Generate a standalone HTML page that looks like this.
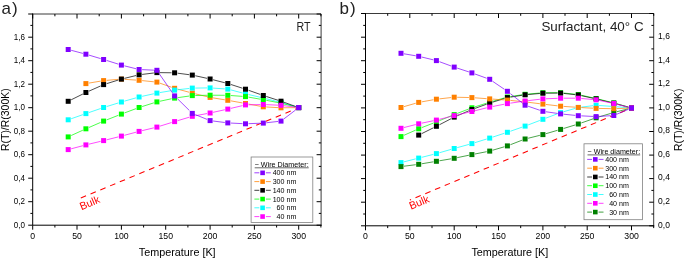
<!DOCTYPE html>
<html><head><meta charset="utf-8"><title>chart</title><style>html,body{margin:0;padding:0;background:#fff}svg{display:block;will-change:transform;transform:translateZ(0)}</style></head><body>
<svg width="685" height="259" viewBox="0 0 685 259">
<rect width="100%" height="100%" fill="#fff"/>
<line x1="80.8" y1="198.0" x2="298.7" y2="107.7" stroke="#ff0000" stroke-width="1.05" stroke-dasharray="5.7 4.85"/>
<text x="0" y="0" font-size="10.7" fill="#ff0000" transform="translate(81.4,210.2) rotate(-22.5)" font-family="Liberation Sans, sans-serif">Bulk</text>
<path fill="none" stroke="#ff8000" stroke-width="0.70" d="M88.91 83.09L100.64 81.11M106.64 80.35L118.38 79.35M124.38 79.30L136.12 80.10M142.12 80.60L153.85 81.80M159.85 83.15L171.59 87.25M177.59 89.11L189.32 92.29M195.32 93.83L207.06 96.67M213.06 97.89L224.80 99.81M230.80 100.84L242.53 102.96M248.53 104.06L260.27 106.24M266.27 106.97L278.00 107.63M284.00 107.77L295.74 107.63"/>
<rect x="83.4" y="81.1" width="5.0" height="5.0" fill="#ff8000"/>
<rect x="101.1" y="78.1" width="5.0" height="5.0" fill="#ff8000"/>
<rect x="118.9" y="76.6" width="5.0" height="5.0" fill="#ff8000"/>
<rect x="136.6" y="77.8" width="5.0" height="5.0" fill="#ff8000"/>
<rect x="154.4" y="79.6" width="5.0" height="5.0" fill="#ff8000"/>
<rect x="172.1" y="85.8" width="5.0" height="5.0" fill="#ff8000"/>
<rect x="189.8" y="90.6" width="5.0" height="5.0" fill="#ff8000"/>
<rect x="207.6" y="94.9" width="5.0" height="5.0" fill="#ff8000"/>
<rect x="225.3" y="97.8" width="5.0" height="5.0" fill="#ff8000"/>
<rect x="243.0" y="101.0" width="5.0" height="5.0" fill="#ff8000"/>
<rect x="260.8" y="104.3" width="5.0" height="5.0" fill="#ff8000"/>
<rect x="278.5" y="105.3" width="5.0" height="5.0" fill="#ff8000"/>
<rect x="296.2" y="105.1" width="5.0" height="5.0" fill="#ff8000"/>
<path fill="none" stroke="#00ffff" stroke-width="0.70" d="M71.17 118.75L82.91 114.65M88.91 112.57L100.64 108.53M106.64 106.57L118.38 102.93M124.38 101.15L136.12 97.85M142.12 96.34L153.85 93.76M159.85 92.59L171.59 90.61M177.59 89.76L189.32 88.44M195.32 88.07L207.06 87.93M213.06 88.10L224.80 88.90M230.80 89.89L242.53 93.01M248.53 94.51L260.27 97.29M266.27 98.76L278.00 101.74M284.00 103.36L295.74 106.74"/>
<rect x="65.7" y="117.3" width="5.0" height="5.0" fill="#00ffff"/>
<rect x="83.4" y="111.1" width="5.0" height="5.0" fill="#00ffff"/>
<rect x="101.1" y="105.0" width="5.0" height="5.0" fill="#00ffff"/>
<rect x="118.9" y="99.5" width="5.0" height="5.0" fill="#00ffff"/>
<rect x="136.6" y="94.5" width="5.0" height="5.0" fill="#00ffff"/>
<rect x="154.4" y="90.6" width="5.0" height="5.0" fill="#00ffff"/>
<rect x="172.1" y="87.6" width="5.0" height="5.0" fill="#00ffff"/>
<rect x="189.8" y="85.6" width="5.0" height="5.0" fill="#00ffff"/>
<rect x="207.6" y="85.4" width="5.0" height="5.0" fill="#00ffff"/>
<rect x="225.3" y="86.6" width="5.0" height="5.0" fill="#00ffff"/>
<rect x="243.0" y="91.3" width="5.0" height="5.0" fill="#00ffff"/>
<rect x="260.8" y="95.5" width="5.0" height="5.0" fill="#00ffff"/>
<rect x="278.5" y="100.0" width="5.0" height="5.0" fill="#00ffff"/>
<rect x="296.2" y="105.1" width="5.0" height="5.0" fill="#00ffff"/>
<path fill="none" stroke="#00ff00" stroke-width="0.70" d="M71.17 135.53L82.91 130.17M88.91 127.50L100.64 122.40M106.64 119.92L118.38 115.28M124.38 112.98L136.12 108.62M142.12 106.55L153.85 102.85M159.85 101.26L171.59 98.74M177.59 97.68L189.32 96.02M195.32 95.53L207.06 95.27M213.06 95.22L224.80 95.28M230.80 95.52L242.53 96.38M248.53 97.12L260.27 99.18M266.27 100.29L278.00 102.61M284.00 103.94L295.74 106.86"/>
<rect x="65.7" y="134.4" width="5.0" height="5.0" fill="#00ff00"/>
<rect x="83.4" y="126.3" width="5.0" height="5.0" fill="#00ff00"/>
<rect x="101.1" y="118.6" width="5.0" height="5.0" fill="#00ff00"/>
<rect x="118.9" y="111.6" width="5.0" height="5.0" fill="#00ff00"/>
<rect x="136.6" y="105.0" width="5.0" height="5.0" fill="#00ff00"/>
<rect x="154.4" y="99.4" width="5.0" height="5.0" fill="#00ff00"/>
<rect x="172.1" y="95.6" width="5.0" height="5.0" fill="#00ff00"/>
<rect x="189.8" y="93.1" width="5.0" height="5.0" fill="#00ff00"/>
<rect x="207.6" y="92.7" width="5.0" height="5.0" fill="#00ff00"/>
<rect x="225.3" y="92.8" width="5.0" height="5.0" fill="#00ff00"/>
<rect x="243.0" y="94.1" width="5.0" height="5.0" fill="#00ff00"/>
<rect x="260.8" y="97.2" width="5.0" height="5.0" fill="#00ff00"/>
<rect x="278.5" y="100.7" width="5.0" height="5.0" fill="#00ff00"/>
<rect x="296.2" y="105.1" width="5.0" height="5.0" fill="#00ff00"/>
<path fill="none" stroke="#000000" stroke-width="0.70" d="M71.17 99.81L82.91 93.99M88.91 91.16L100.64 85.94M106.64 83.67L118.38 80.03M124.38 78.37L136.12 75.53M142.12 74.43L153.85 72.97M159.85 72.63L171.59 72.77M177.59 73.19L189.32 74.71M195.32 75.76L207.06 78.34M213.06 79.76L224.80 82.74M230.80 84.46L242.53 88.24M248.53 90.27L260.27 94.43M266.27 96.46L278.00 100.24M284.00 102.28L295.74 106.52"/>
<rect x="65.7" y="98.8" width="5.0" height="5.0" fill="#000000"/>
<rect x="83.4" y="90.0" width="5.0" height="5.0" fill="#000000"/>
<rect x="101.1" y="82.1" width="5.0" height="5.0" fill="#000000"/>
<rect x="118.9" y="76.6" width="5.0" height="5.0" fill="#000000"/>
<rect x="136.6" y="72.3" width="5.0" height="5.0" fill="#000000"/>
<rect x="154.4" y="70.1" width="5.0" height="5.0" fill="#000000"/>
<rect x="172.1" y="70.3" width="5.0" height="5.0" fill="#000000"/>
<rect x="189.8" y="72.6" width="5.0" height="5.0" fill="#000000"/>
<rect x="207.6" y="76.5" width="5.0" height="5.0" fill="#000000"/>
<rect x="225.3" y="81.0" width="5.0" height="5.0" fill="#000000"/>
<rect x="243.0" y="86.7" width="5.0" height="5.0" fill="#000000"/>
<rect x="260.8" y="93.0" width="5.0" height="5.0" fill="#000000"/>
<rect x="278.5" y="98.7" width="5.0" height="5.0" fill="#000000"/>
<rect x="296.2" y="105.1" width="5.0" height="5.0" fill="#000000"/>
<path fill="none" stroke="#ff00ff" stroke-width="0.70" d="M71.17 148.81L82.91 145.69M88.91 144.17L100.64 141.33M106.64 139.84L118.38 136.86M124.38 135.31L136.12 132.19M142.12 130.67L153.85 127.83M159.85 126.17L171.59 122.53M177.59 120.70L189.32 117.20M195.32 115.74L207.06 113.56M213.06 112.34L224.80 109.76M230.80 108.39L242.53 105.61M248.53 104.83L260.27 104.57M266.27 104.64L278.00 105.16M284.00 105.69L295.74 107.21"/>
<rect x="65.7" y="147.1" width="5.0" height="5.0" fill="#ff00ff"/>
<rect x="83.4" y="142.4" width="5.0" height="5.0" fill="#ff00ff"/>
<rect x="101.1" y="138.1" width="5.0" height="5.0" fill="#ff00ff"/>
<rect x="118.9" y="133.6" width="5.0" height="5.0" fill="#ff00ff"/>
<rect x="136.6" y="128.9" width="5.0" height="5.0" fill="#ff00ff"/>
<rect x="154.4" y="124.6" width="5.0" height="5.0" fill="#ff00ff"/>
<rect x="172.1" y="119.1" width="5.0" height="5.0" fill="#ff00ff"/>
<rect x="189.8" y="113.8" width="5.0" height="5.0" fill="#ff00ff"/>
<rect x="207.6" y="110.5" width="5.0" height="5.0" fill="#ff00ff"/>
<rect x="225.3" y="106.6" width="5.0" height="5.0" fill="#ff00ff"/>
<rect x="243.0" y="102.4" width="5.0" height="5.0" fill="#ff00ff"/>
<rect x="260.8" y="102.0" width="5.0" height="5.0" fill="#ff00ff"/>
<rect x="278.5" y="102.8" width="5.0" height="5.0" fill="#ff00ff"/>
<rect x="296.2" y="105.1" width="5.0" height="5.0" fill="#ff00ff"/>
<path fill="none" stroke="#8000ff" stroke-width="0.70" d="M71.17 50.29L82.91 53.41M88.91 55.10L100.64 58.60M106.64 60.45L118.38 64.15M124.38 65.84L136.12 68.76M142.12 69.64L153.85 70.16M158.93 73.30L172.51 92.90M177.59 98.86L189.32 110.44M195.32 114.62L207.06 119.38M213.06 120.99L224.80 122.51M230.80 123.05L242.53 123.65M248.53 123.68L260.27 123.22M266.27 122.76L278.00 121.44M284.00 118.82L295.74 109.88"/>
<rect x="65.7" y="47.0" width="5.0" height="5.0" fill="#8000ff"/>
<rect x="83.4" y="51.7" width="5.0" height="5.0" fill="#8000ff"/>
<rect x="101.1" y="57.0" width="5.0" height="5.0" fill="#8000ff"/>
<rect x="118.9" y="62.6" width="5.0" height="5.0" fill="#8000ff"/>
<rect x="136.6" y="67.0" width="5.0" height="5.0" fill="#8000ff"/>
<rect x="154.4" y="67.8" width="5.0" height="5.0" fill="#8000ff"/>
<rect x="172.1" y="93.4" width="5.0" height="5.0" fill="#8000ff"/>
<rect x="189.8" y="110.9" width="5.0" height="5.0" fill="#8000ff"/>
<rect x="207.6" y="118.1" width="5.0" height="5.0" fill="#8000ff"/>
<rect x="225.3" y="120.4" width="5.0" height="5.0" fill="#8000ff"/>
<rect x="243.0" y="121.3" width="5.0" height="5.0" fill="#8000ff"/>
<rect x="260.8" y="120.6" width="5.0" height="5.0" fill="#8000ff"/>
<rect x="278.5" y="118.6" width="5.0" height="5.0" fill="#8000ff"/>
<rect x="296.2" y="105.1" width="5.0" height="5.0" fill="#8000ff"/>
<path d="M32.20 14.00 H321.10 V225.70" fill="none" stroke="#3a3a3a" stroke-width="1"/>
<path d="M32.70 13.50 V225.20 H321.60" fill="none" stroke="#000" stroke-width="1"/>
<line x1="32.7" y1="225.2" x2="32.7" y2="229.7" stroke="#000" stroke-width="1"/>
<line x1="32.7" y1="14.0" x2="32.7" y2="18.5" stroke="#000" stroke-width="1"/>
<text transform="translate(32.70,239.30) scale(0.945,1)" font-size="9.2" text-anchor="middle" font-family="Liberation Sans, sans-serif">0</text>
<line x1="54.9" y1="225.2" x2="54.9" y2="227.5" stroke="#000" stroke-width="1"/>
<line x1="54.9" y1="14.0" x2="54.9" y2="16.3" stroke="#000" stroke-width="1"/>
<line x1="77.0" y1="225.2" x2="77.0" y2="229.7" stroke="#000" stroke-width="1"/>
<line x1="77.0" y1="14.0" x2="77.0" y2="18.5" stroke="#000" stroke-width="1"/>
<text transform="translate(77.04,239.30) scale(0.945,1)" font-size="9.2" text-anchor="middle" font-family="Liberation Sans, sans-serif">50</text>
<line x1="99.2" y1="225.2" x2="99.2" y2="227.5" stroke="#000" stroke-width="1"/>
<line x1="99.2" y1="14.0" x2="99.2" y2="16.3" stroke="#000" stroke-width="1"/>
<line x1="121.4" y1="225.2" x2="121.4" y2="229.7" stroke="#000" stroke-width="1"/>
<line x1="121.4" y1="14.0" x2="121.4" y2="18.5" stroke="#000" stroke-width="1"/>
<text transform="translate(121.38,239.30) scale(0.945,1)" font-size="9.2" text-anchor="middle" font-family="Liberation Sans, sans-serif">100</text>
<line x1="143.6" y1="225.2" x2="143.6" y2="227.5" stroke="#000" stroke-width="1"/>
<line x1="143.6" y1="14.0" x2="143.6" y2="16.3" stroke="#000" stroke-width="1"/>
<line x1="165.7" y1="225.2" x2="165.7" y2="229.7" stroke="#000" stroke-width="1"/>
<line x1="165.7" y1="14.0" x2="165.7" y2="18.5" stroke="#000" stroke-width="1"/>
<text transform="translate(165.72,239.30) scale(0.945,1)" font-size="9.2" text-anchor="middle" font-family="Liberation Sans, sans-serif">150</text>
<line x1="187.9" y1="225.2" x2="187.9" y2="227.5" stroke="#000" stroke-width="1"/>
<line x1="187.9" y1="14.0" x2="187.9" y2="16.3" stroke="#000" stroke-width="1"/>
<line x1="210.1" y1="225.2" x2="210.1" y2="229.7" stroke="#000" stroke-width="1"/>
<line x1="210.1" y1="14.0" x2="210.1" y2="18.5" stroke="#000" stroke-width="1"/>
<text transform="translate(210.06,239.30) scale(0.945,1)" font-size="9.2" text-anchor="middle" font-family="Liberation Sans, sans-serif">200</text>
<line x1="232.2" y1="225.2" x2="232.2" y2="227.5" stroke="#000" stroke-width="1"/>
<line x1="232.2" y1="14.0" x2="232.2" y2="16.3" stroke="#000" stroke-width="1"/>
<line x1="254.4" y1="225.2" x2="254.4" y2="229.7" stroke="#000" stroke-width="1"/>
<line x1="254.4" y1="14.0" x2="254.4" y2="18.5" stroke="#000" stroke-width="1"/>
<text transform="translate(254.40,239.30) scale(0.945,1)" font-size="9.2" text-anchor="middle" font-family="Liberation Sans, sans-serif">250</text>
<line x1="276.6" y1="225.2" x2="276.6" y2="227.5" stroke="#000" stroke-width="1"/>
<line x1="276.6" y1="14.0" x2="276.6" y2="16.3" stroke="#000" stroke-width="1"/>
<line x1="298.7" y1="225.2" x2="298.7" y2="229.7" stroke="#000" stroke-width="1"/>
<line x1="298.7" y1="14.0" x2="298.7" y2="18.5" stroke="#000" stroke-width="1"/>
<text transform="translate(298.74,239.30) scale(0.945,1)" font-size="9.2" text-anchor="middle" font-family="Liberation Sans, sans-serif">300</text>
<line x1="320.9" y1="225.2" x2="320.9" y2="227.5" stroke="#000" stroke-width="1"/>
<line x1="320.9" y1="14.0" x2="320.9" y2="16.3" stroke="#000" stroke-width="1"/>
<line x1="28.2" y1="225.2" x2="32.7" y2="225.2" stroke="#000" stroke-width="1"/>
<line x1="316.6" y1="225.2" x2="321.1" y2="225.2" stroke="#000" stroke-width="1"/>
<text transform="translate(25.00,227.90) scale(0.875,1)" font-size="9.2" text-anchor="end" font-family="Liberation Sans, sans-serif">0,0</text>
<line x1="30.4" y1="213.4" x2="32.7" y2="213.4" stroke="#000" stroke-width="1"/>
<line x1="318.8" y1="213.4" x2="321.1" y2="213.4" stroke="#000" stroke-width="1"/>
<line x1="28.2" y1="201.7" x2="32.7" y2="201.7" stroke="#000" stroke-width="1"/>
<line x1="316.6" y1="201.7" x2="321.1" y2="201.7" stroke="#000" stroke-width="1"/>
<text transform="translate(25.00,204.40) scale(0.875,1)" font-size="9.2" text-anchor="end" font-family="Liberation Sans, sans-serif">0,2</text>
<line x1="30.4" y1="189.9" x2="32.7" y2="189.9" stroke="#000" stroke-width="1"/>
<line x1="318.8" y1="189.9" x2="321.1" y2="189.9" stroke="#000" stroke-width="1"/>
<line x1="28.2" y1="178.2" x2="32.7" y2="178.2" stroke="#000" stroke-width="1"/>
<line x1="316.6" y1="178.2" x2="321.1" y2="178.2" stroke="#000" stroke-width="1"/>
<text transform="translate(25.00,180.90) scale(0.875,1)" font-size="9.2" text-anchor="end" font-family="Liberation Sans, sans-serif">0,4</text>
<line x1="30.4" y1="166.4" x2="32.7" y2="166.4" stroke="#000" stroke-width="1"/>
<line x1="318.8" y1="166.4" x2="321.1" y2="166.4" stroke="#000" stroke-width="1"/>
<line x1="28.2" y1="154.7" x2="32.7" y2="154.7" stroke="#000" stroke-width="1"/>
<line x1="316.6" y1="154.7" x2="321.1" y2="154.7" stroke="#000" stroke-width="1"/>
<text transform="translate(25.00,157.40) scale(0.875,1)" font-size="9.2" text-anchor="end" font-family="Liberation Sans, sans-serif">0,6</text>
<line x1="30.4" y1="142.9" x2="32.7" y2="142.9" stroke="#000" stroke-width="1"/>
<line x1="318.8" y1="142.9" x2="321.1" y2="142.9" stroke="#000" stroke-width="1"/>
<line x1="28.2" y1="131.2" x2="32.7" y2="131.2" stroke="#000" stroke-width="1"/>
<line x1="316.6" y1="131.2" x2="321.1" y2="131.2" stroke="#000" stroke-width="1"/>
<text transform="translate(25.00,133.90) scale(0.875,1)" font-size="9.2" text-anchor="end" font-family="Liberation Sans, sans-serif">0,8</text>
<line x1="30.4" y1="119.4" x2="32.7" y2="119.4" stroke="#000" stroke-width="1"/>
<line x1="318.8" y1="119.4" x2="321.1" y2="119.4" stroke="#000" stroke-width="1"/>
<line x1="28.2" y1="107.7" x2="32.7" y2="107.7" stroke="#000" stroke-width="1"/>
<line x1="316.6" y1="107.7" x2="321.1" y2="107.7" stroke="#000" stroke-width="1"/>
<text transform="translate(25.00,110.40) scale(0.875,1)" font-size="9.2" text-anchor="end" font-family="Liberation Sans, sans-serif">1,0</text>
<line x1="30.4" y1="95.9" x2="32.7" y2="95.9" stroke="#000" stroke-width="1"/>
<line x1="318.8" y1="95.9" x2="321.1" y2="95.9" stroke="#000" stroke-width="1"/>
<line x1="28.2" y1="84.2" x2="32.7" y2="84.2" stroke="#000" stroke-width="1"/>
<line x1="316.6" y1="84.2" x2="321.1" y2="84.2" stroke="#000" stroke-width="1"/>
<text transform="translate(25.00,86.90) scale(0.875,1)" font-size="9.2" text-anchor="end" font-family="Liberation Sans, sans-serif">1,2</text>
<line x1="30.4" y1="72.4" x2="32.7" y2="72.4" stroke="#000" stroke-width="1"/>
<line x1="318.8" y1="72.4" x2="321.1" y2="72.4" stroke="#000" stroke-width="1"/>
<line x1="28.2" y1="60.7" x2="32.7" y2="60.7" stroke="#000" stroke-width="1"/>
<line x1="316.6" y1="60.7" x2="321.1" y2="60.7" stroke="#000" stroke-width="1"/>
<text transform="translate(25.00,63.40) scale(0.875,1)" font-size="9.2" text-anchor="end" font-family="Liberation Sans, sans-serif">1,4</text>
<line x1="30.4" y1="48.9" x2="32.7" y2="48.9" stroke="#000" stroke-width="1"/>
<line x1="318.8" y1="48.9" x2="321.1" y2="48.9" stroke="#000" stroke-width="1"/>
<line x1="28.2" y1="37.2" x2="32.7" y2="37.2" stroke="#000" stroke-width="1"/>
<line x1="316.6" y1="37.2" x2="321.1" y2="37.2" stroke="#000" stroke-width="1"/>
<text transform="translate(25.00,39.90) scale(0.875,1)" font-size="9.2" text-anchor="end" font-family="Liberation Sans, sans-serif">1,6</text>
<line x1="30.4" y1="25.4" x2="32.7" y2="25.4" stroke="#000" stroke-width="1"/>
<line x1="318.8" y1="25.4" x2="321.1" y2="25.4" stroke="#000" stroke-width="1"/>
<line x1="28.2" y1="14.0" x2="32.7" y2="14.0" stroke="#000" stroke-width="1"/>
<line x1="316.6" y1="14.0" x2="321.1" y2="14.0" stroke="#000" stroke-width="1"/>
<rect x="251.1" y="157.0" width="61.7" height="65.4" fill="#fff" stroke="#808080" stroke-width="0.8"/>
<text x="254.7" y="166.6" font-size="7.5" textLength="54.0" lengthAdjust="spacingAndGlyphs" font-family="Liberation Sans, sans-serif">~ Wire Diameter:</text>
<line x1="254.7" y1="167.8" x2="308.7" y2="167.8" stroke="#000" stroke-width="0.6"/>
<line x1="254.4" y1="172.8" x2="259.3" y2="172.8" stroke="#8000ff" stroke-width="0.75"/>
<line x1="265.9" y1="172.8" x2="270.8" y2="172.8" stroke="#8000ff" stroke-width="0.75"/>
<rect x="260.30" y="170.55" width="4.6" height="4.6" fill="#8000ff"/>
<text transform="translate(296.30,175.35) scale(0.947,1)" font-size="7.5" text-anchor="end" font-family="Liberation Sans, sans-serif">400 nm</text>
<line x1="254.4" y1="181.6" x2="259.3" y2="181.6" stroke="#ff8000" stroke-width="0.75"/>
<line x1="265.9" y1="181.6" x2="270.8" y2="181.6" stroke="#ff8000" stroke-width="0.75"/>
<rect x="260.30" y="179.29" width="4.6" height="4.6" fill="#ff8000"/>
<text transform="translate(296.30,184.09) scale(0.947,1)" font-size="7.5" text-anchor="end" font-family="Liberation Sans, sans-serif">300 nm</text>
<line x1="254.4" y1="190.3" x2="259.3" y2="190.3" stroke="#000000" stroke-width="0.75"/>
<line x1="265.9" y1="190.3" x2="270.8" y2="190.3" stroke="#000000" stroke-width="0.75"/>
<rect x="260.30" y="188.03" width="4.6" height="4.6" fill="#000000"/>
<text transform="translate(296.30,192.83) scale(0.947,1)" font-size="7.5" text-anchor="end" font-family="Liberation Sans, sans-serif">140 nm</text>
<line x1="254.4" y1="199.1" x2="259.3" y2="199.1" stroke="#00ff00" stroke-width="0.75"/>
<line x1="265.9" y1="199.1" x2="270.8" y2="199.1" stroke="#00ff00" stroke-width="0.75"/>
<rect x="260.30" y="196.77" width="4.6" height="4.6" fill="#00ff00"/>
<text transform="translate(296.30,201.57) scale(0.947,1)" font-size="7.5" text-anchor="end" font-family="Liberation Sans, sans-serif">100 nm</text>
<line x1="254.4" y1="207.8" x2="259.3" y2="207.8" stroke="#00ffff" stroke-width="0.75"/>
<line x1="265.9" y1="207.8" x2="270.8" y2="207.8" stroke="#00ffff" stroke-width="0.75"/>
<rect x="260.30" y="205.51" width="4.6" height="4.6" fill="#00ffff"/>
<text transform="translate(296.30,210.31) scale(0.947,1)" font-size="7.5" text-anchor="end" font-family="Liberation Sans, sans-serif">60 nm</text>
<line x1="254.4" y1="216.6" x2="259.3" y2="216.6" stroke="#ff00ff" stroke-width="0.75"/>
<line x1="265.9" y1="216.6" x2="270.8" y2="216.6" stroke="#ff00ff" stroke-width="0.75"/>
<rect x="260.30" y="214.25" width="4.6" height="4.6" fill="#ff00ff"/>
<text transform="translate(296.30,219.05) scale(0.947,1)" font-size="7.5" text-anchor="end" font-family="Liberation Sans, sans-serif">40 nm</text>
<line x1="415.5" y1="197.7" x2="631.5" y2="107.9" stroke="#ff0000" stroke-width="1.05" stroke-dasharray="5.7 4.85"/>
<text x="0" y="0" font-size="10.7" fill="#ff0000" transform="translate(410.9,209.8) rotate(-22.5)" font-family="Liberation Sans, sans-serif">Bulk</text>
<line x1="409.9" y1="200.0" x2="411.0" y2="199.55" stroke="#ff0000" stroke-width="1.1"/>
<path fill="none" stroke="#00ffff" stroke-width="0.70" d="M403.97 161.84L415.71 158.86M421.71 157.34L433.44 154.36M439.44 152.74L451.18 149.36M457.18 147.67L468.92 144.43M474.92 142.67L486.65 139.03M492.65 137.12L504.39 133.28M510.39 131.25L522.12 127.15M528.12 124.95L539.86 120.45M545.86 118.17L557.60 113.73M563.60 111.74L575.33 108.36M581.33 107.13L593.07 105.67M599.07 105.50L610.80 106.30M616.80 106.75L628.54 107.75"/>
<rect x="398.5" y="160.1" width="5.0" height="5.0" fill="#00ffff"/>
<rect x="416.2" y="155.6" width="5.0" height="5.0" fill="#00ffff"/>
<rect x="433.9" y="151.1" width="5.0" height="5.0" fill="#00ffff"/>
<rect x="451.7" y="146.0" width="5.0" height="5.0" fill="#00ffff"/>
<rect x="469.4" y="141.1" width="5.0" height="5.0" fill="#00ffff"/>
<rect x="487.2" y="135.6" width="5.0" height="5.0" fill="#00ffff"/>
<rect x="504.9" y="129.8" width="5.0" height="5.0" fill="#00ffff"/>
<rect x="522.6" y="123.6" width="5.0" height="5.0" fill="#00ffff"/>
<rect x="540.4" y="116.8" width="5.0" height="5.0" fill="#00ffff"/>
<rect x="558.1" y="110.1" width="5.0" height="5.0" fill="#00ffff"/>
<rect x="575.8" y="105.0" width="5.0" height="5.0" fill="#00ffff"/>
<rect x="593.6" y="102.8" width="5.0" height="5.0" fill="#00ffff"/>
<rect x="611.3" y="104.0" width="5.0" height="5.0" fill="#00ffff"/>
<rect x="629.0" y="105.5" width="5.0" height="5.0" fill="#00ffff"/>
<path fill="none" stroke="#008000" stroke-width="0.70" d="M403.97 166.21L415.71 164.69M421.71 163.79L433.44 161.81M439.44 160.79L451.18 158.81M457.18 157.67L468.92 155.23M474.92 154.01L486.65 151.69M492.65 150.22L504.39 146.78M510.39 144.73L522.12 140.17M528.12 138.26L539.86 135.34M545.86 133.72L557.60 130.28M563.60 128.49L575.33 124.91M581.33 122.95L593.07 118.85M599.07 116.90L610.80 113.40M616.80 111.74L628.54 108.76"/>
<rect x="398.5" y="164.1" width="5.0" height="5.0" fill="#008000"/>
<rect x="416.2" y="161.8" width="5.0" height="5.0" fill="#008000"/>
<rect x="433.9" y="158.8" width="5.0" height="5.0" fill="#008000"/>
<rect x="451.7" y="155.8" width="5.0" height="5.0" fill="#008000"/>
<rect x="469.4" y="152.1" width="5.0" height="5.0" fill="#008000"/>
<rect x="487.2" y="148.6" width="5.0" height="5.0" fill="#008000"/>
<rect x="504.9" y="143.4" width="5.0" height="5.0" fill="#008000"/>
<rect x="522.6" y="136.5" width="5.0" height="5.0" fill="#008000"/>
<rect x="540.4" y="132.1" width="5.0" height="5.0" fill="#008000"/>
<rect x="558.1" y="126.9" width="5.0" height="5.0" fill="#008000"/>
<rect x="575.8" y="121.5" width="5.0" height="5.0" fill="#008000"/>
<rect x="593.6" y="115.3" width="5.0" height="5.0" fill="#008000"/>
<rect x="611.3" y="110.0" width="5.0" height="5.0" fill="#008000"/>
<rect x="629.0" y="105.5" width="5.0" height="5.0" fill="#008000"/>
<path fill="none" stroke="#00ff00" stroke-width="0.70" d="M403.97 135.28L415.71 130.12M421.71 127.63L433.44 123.07M439.44 120.67L451.18 115.83M457.18 113.45L468.92 108.95M474.92 106.85L486.65 103.15M492.65 101.32L504.39 97.88M510.39 96.54L522.12 94.76M528.12 94.04L539.86 93.01M545.86 92.73L557.60 92.67M563.60 92.97L575.33 94.23M581.33 95.22L593.07 97.83M599.07 99.24L610.80 102.16M616.80 103.76L628.54 107.14"/>
<rect x="398.5" y="134.1" width="5.0" height="5.0" fill="#00ff00"/>
<rect x="416.2" y="126.3" width="5.0" height="5.0" fill="#00ff00"/>
<rect x="433.9" y="119.4" width="5.0" height="5.0" fill="#00ff00"/>
<rect x="451.7" y="112.1" width="5.0" height="5.0" fill="#00ff00"/>
<rect x="469.4" y="105.3" width="5.0" height="5.0" fill="#00ff00"/>
<rect x="487.2" y="99.7" width="5.0" height="5.0" fill="#00ff00"/>
<rect x="504.9" y="94.5" width="5.0" height="5.0" fill="#00ff00"/>
<rect x="522.6" y="91.8" width="5.0" height="5.0" fill="#00ff00"/>
<rect x="540.4" y="90.2" width="5.0" height="5.0" fill="#00ff00"/>
<rect x="558.1" y="90.2" width="5.0" height="5.0" fill="#00ff00"/>
<rect x="575.8" y="92.0" width="5.0" height="5.0" fill="#00ff00"/>
<rect x="593.6" y="96.0" width="5.0" height="5.0" fill="#00ff00"/>
<rect x="611.3" y="100.4" width="5.0" height="5.0" fill="#00ff00"/>
<rect x="629.0" y="105.5" width="5.0" height="5.0" fill="#00ff00"/>
<path fill="none" stroke="#000000" stroke-width="0.70" d="M421.71 133.61L433.44 127.79M439.44 124.74L451.18 118.66M457.18 115.81L468.92 110.79M474.92 108.42L486.65 104.18M492.65 102.17L504.39 98.53M510.39 97.13L522.12 95.27M528.12 94.53L539.86 93.47M545.86 93.18L557.60 93.12M563.60 93.42L575.33 94.68M581.33 95.66L593.07 98.24M599.07 99.63L610.80 102.47M616.80 104.01L628.54 107.19"/>
<rect x="416.2" y="132.6" width="5.0" height="5.0" fill="#000000"/>
<rect x="433.9" y="123.8" width="5.0" height="5.0" fill="#000000"/>
<rect x="451.7" y="114.6" width="5.0" height="5.0" fill="#000000"/>
<rect x="469.4" y="107.0" width="5.0" height="5.0" fill="#000000"/>
<rect x="487.2" y="100.6" width="5.0" height="5.0" fill="#000000"/>
<rect x="504.9" y="95.1" width="5.0" height="5.0" fill="#000000"/>
<rect x="522.6" y="92.3" width="5.0" height="5.0" fill="#000000"/>
<rect x="540.4" y="90.7" width="5.0" height="5.0" fill="#000000"/>
<rect x="558.1" y="90.6" width="5.0" height="5.0" fill="#000000"/>
<rect x="575.8" y="92.5" width="5.0" height="5.0" fill="#000000"/>
<rect x="593.6" y="96.4" width="5.0" height="5.0" fill="#000000"/>
<rect x="611.3" y="100.7" width="5.0" height="5.0" fill="#000000"/>
<rect x="629.0" y="105.5" width="5.0" height="5.0" fill="#000000"/>
<path fill="none" stroke="#ff8000" stroke-width="0.70" d="M403.97 106.64L415.71 103.26M421.71 101.86L433.44 99.74M439.44 98.86L451.18 97.54M457.18 97.27L468.92 97.53M474.92 97.82L486.65 98.68M492.65 99.10L504.39 99.90M510.39 100.40L522.12 101.60M528.12 102.27L539.86 103.73M545.86 104.46L557.60 105.84M563.60 106.40L575.33 107.20M581.33 107.57L593.07 108.23M599.07 108.45L610.80 108.65M616.80 108.58L628.54 108.12"/>
<rect x="398.5" y="105.0" width="5.0" height="5.0" fill="#ff8000"/>
<rect x="416.2" y="99.9" width="5.0" height="5.0" fill="#ff8000"/>
<rect x="433.9" y="96.7" width="5.0" height="5.0" fill="#ff8000"/>
<rect x="451.7" y="94.7" width="5.0" height="5.0" fill="#ff8000"/>
<rect x="469.4" y="95.1" width="5.0" height="5.0" fill="#ff8000"/>
<rect x="487.2" y="96.4" width="5.0" height="5.0" fill="#ff8000"/>
<rect x="504.9" y="97.6" width="5.0" height="5.0" fill="#ff8000"/>
<rect x="522.6" y="99.4" width="5.0" height="5.0" fill="#ff8000"/>
<rect x="540.4" y="101.6" width="5.0" height="5.0" fill="#ff8000"/>
<rect x="558.1" y="103.7" width="5.0" height="5.0" fill="#ff8000"/>
<rect x="575.8" y="104.9" width="5.0" height="5.0" fill="#ff8000"/>
<rect x="593.6" y="105.9" width="5.0" height="5.0" fill="#ff8000"/>
<rect x="611.3" y="106.2" width="5.0" height="5.0" fill="#ff8000"/>
<rect x="629.0" y="105.5" width="5.0" height="5.0" fill="#ff8000"/>
<path fill="none" stroke="#ff00ff" stroke-width="0.70" d="M403.97 127.54L415.71 124.56M421.71 123.17L433.44 120.73M439.44 119.34L451.18 116.36M457.18 114.91L468.92 112.19M474.92 110.76L486.65 107.84M492.65 106.51L504.39 104.19M510.39 103.16L522.12 101.44M528.12 100.64L539.86 99.26M545.86 98.78L557.60 98.32M563.60 98.20L575.33 98.20M581.33 98.47L593.07 99.53M599.07 100.43L610.80 102.87M616.80 104.26L628.54 107.24"/>
<rect x="398.5" y="125.8" width="5.0" height="5.0" fill="#ff00ff"/>
<rect x="416.2" y="121.3" width="5.0" height="5.0" fill="#ff00ff"/>
<rect x="433.9" y="117.6" width="5.0" height="5.0" fill="#ff00ff"/>
<rect x="451.7" y="113.1" width="5.0" height="5.0" fill="#ff00ff"/>
<rect x="469.4" y="109.0" width="5.0" height="5.0" fill="#ff00ff"/>
<rect x="487.2" y="104.6" width="5.0" height="5.0" fill="#ff00ff"/>
<rect x="504.9" y="101.1" width="5.0" height="5.0" fill="#ff00ff"/>
<rect x="522.6" y="98.5" width="5.0" height="5.0" fill="#ff00ff"/>
<rect x="540.4" y="96.4" width="5.0" height="5.0" fill="#ff00ff"/>
<rect x="558.1" y="95.7" width="5.0" height="5.0" fill="#ff00ff"/>
<rect x="575.8" y="95.7" width="5.0" height="5.0" fill="#ff00ff"/>
<rect x="593.6" y="97.3" width="5.0" height="5.0" fill="#ff00ff"/>
<rect x="611.3" y="101.0" width="5.0" height="5.0" fill="#ff00ff"/>
<rect x="629.0" y="105.5" width="5.0" height="5.0" fill="#ff00ff"/>
<path fill="none" stroke="#8000ff" stroke-width="0.70" d="M403.97 53.81L415.71 55.79M421.71 57.03L433.44 59.87M439.44 61.70L451.18 66.00M457.18 68.08L468.92 71.92M474.92 73.98L486.65 78.22M492.65 81.33L504.39 89.27M510.39 93.65L522.12 102.85M528.12 106.23L539.86 110.27M545.86 111.74L557.60 113.46M563.60 114.20L575.33 115.40M581.33 115.85L593.07 116.45M599.07 116.41L610.80 115.69M616.80 114.23L628.54 109.27"/>
<rect x="398.5" y="50.8" width="5.0" height="5.0" fill="#8000ff"/>
<rect x="416.2" y="53.8" width="5.0" height="5.0" fill="#8000ff"/>
<rect x="433.9" y="58.1" width="5.0" height="5.0" fill="#8000ff"/>
<rect x="451.7" y="64.6" width="5.0" height="5.0" fill="#8000ff"/>
<rect x="469.4" y="70.4" width="5.0" height="5.0" fill="#8000ff"/>
<rect x="487.2" y="76.8" width="5.0" height="5.0" fill="#8000ff"/>
<rect x="504.9" y="88.8" width="5.0" height="5.0" fill="#8000ff"/>
<rect x="522.6" y="102.7" width="5.0" height="5.0" fill="#8000ff"/>
<rect x="540.4" y="108.8" width="5.0" height="5.0" fill="#8000ff"/>
<rect x="558.1" y="111.4" width="5.0" height="5.0" fill="#8000ff"/>
<rect x="575.8" y="113.2" width="5.0" height="5.0" fill="#8000ff"/>
<rect x="593.6" y="114.1" width="5.0" height="5.0" fill="#8000ff"/>
<rect x="611.3" y="113.0" width="5.0" height="5.0" fill="#8000ff"/>
<rect x="629.0" y="105.5" width="5.0" height="5.0" fill="#8000ff"/>
<path d="M365.00 13.50 H653.70 V226.30" fill="none" stroke="#3a3a3a" stroke-width="1"/>
<path d="M365.50 13.00 V225.80 H654.20" fill="none" stroke="#000" stroke-width="1"/>
<line x1="365.5" y1="225.8" x2="365.5" y2="230.3" stroke="#000" stroke-width="1"/>
<line x1="365.5" y1="13.5" x2="365.5" y2="18.0" stroke="#000" stroke-width="1"/>
<text transform="translate(365.50,239.45) scale(0.945,1)" font-size="9.2" text-anchor="middle" font-family="Liberation Sans, sans-serif">0</text>
<line x1="387.7" y1="225.8" x2="387.7" y2="228.1" stroke="#000" stroke-width="1"/>
<line x1="387.7" y1="13.5" x2="387.7" y2="15.8" stroke="#000" stroke-width="1"/>
<line x1="409.8" y1="225.8" x2="409.8" y2="230.3" stroke="#000" stroke-width="1"/>
<line x1="409.8" y1="13.5" x2="409.8" y2="18.0" stroke="#000" stroke-width="1"/>
<text transform="translate(409.84,239.45) scale(0.945,1)" font-size="9.2" text-anchor="middle" font-family="Liberation Sans, sans-serif">50</text>
<line x1="432.0" y1="225.8" x2="432.0" y2="228.1" stroke="#000" stroke-width="1"/>
<line x1="432.0" y1="13.5" x2="432.0" y2="15.8" stroke="#000" stroke-width="1"/>
<line x1="454.2" y1="225.8" x2="454.2" y2="230.3" stroke="#000" stroke-width="1"/>
<line x1="454.2" y1="13.5" x2="454.2" y2="18.0" stroke="#000" stroke-width="1"/>
<text transform="translate(454.18,239.45) scale(0.945,1)" font-size="9.2" text-anchor="middle" font-family="Liberation Sans, sans-serif">100</text>
<line x1="476.4" y1="225.8" x2="476.4" y2="228.1" stroke="#000" stroke-width="1"/>
<line x1="476.4" y1="13.5" x2="476.4" y2="15.8" stroke="#000" stroke-width="1"/>
<line x1="498.5" y1="225.8" x2="498.5" y2="230.3" stroke="#000" stroke-width="1"/>
<line x1="498.5" y1="13.5" x2="498.5" y2="18.0" stroke="#000" stroke-width="1"/>
<text transform="translate(498.52,239.45) scale(0.945,1)" font-size="9.2" text-anchor="middle" font-family="Liberation Sans, sans-serif">150</text>
<line x1="520.7" y1="225.8" x2="520.7" y2="228.1" stroke="#000" stroke-width="1"/>
<line x1="520.7" y1="13.5" x2="520.7" y2="15.8" stroke="#000" stroke-width="1"/>
<line x1="542.9" y1="225.8" x2="542.9" y2="230.3" stroke="#000" stroke-width="1"/>
<line x1="542.9" y1="13.5" x2="542.9" y2="18.0" stroke="#000" stroke-width="1"/>
<text transform="translate(542.86,239.45) scale(0.945,1)" font-size="9.2" text-anchor="middle" font-family="Liberation Sans, sans-serif">200</text>
<line x1="565.0" y1="225.8" x2="565.0" y2="228.1" stroke="#000" stroke-width="1"/>
<line x1="565.0" y1="13.5" x2="565.0" y2="15.8" stroke="#000" stroke-width="1"/>
<line x1="587.2" y1="225.8" x2="587.2" y2="230.3" stroke="#000" stroke-width="1"/>
<line x1="587.2" y1="13.5" x2="587.2" y2="18.0" stroke="#000" stroke-width="1"/>
<text transform="translate(587.20,239.45) scale(0.945,1)" font-size="9.2" text-anchor="middle" font-family="Liberation Sans, sans-serif">250</text>
<line x1="609.4" y1="225.8" x2="609.4" y2="228.1" stroke="#000" stroke-width="1"/>
<line x1="609.4" y1="13.5" x2="609.4" y2="15.8" stroke="#000" stroke-width="1"/>
<line x1="631.5" y1="225.8" x2="631.5" y2="230.3" stroke="#000" stroke-width="1"/>
<line x1="631.5" y1="13.5" x2="631.5" y2="18.0" stroke="#000" stroke-width="1"/>
<text transform="translate(631.54,239.45) scale(0.945,1)" font-size="9.2" text-anchor="middle" font-family="Liberation Sans, sans-serif">300</text>
<line x1="653.7" y1="225.8" x2="653.7" y2="228.1" stroke="#000" stroke-width="1"/>
<line x1="653.7" y1="13.5" x2="653.7" y2="15.8" stroke="#000" stroke-width="1"/>
<line x1="361.0" y1="225.8" x2="365.5" y2="225.8" stroke="#000" stroke-width="1"/>
<line x1="649.2" y1="225.8" x2="653.7" y2="225.8" stroke="#000" stroke-width="1"/>
<text transform="translate(658.10,227.65) scale(0.925,1)" font-size="9.2" text-anchor="start" font-family="Liberation Sans, sans-serif">0,0</text>
<line x1="363.2" y1="214.0" x2="365.5" y2="214.0" stroke="#000" stroke-width="1"/>
<line x1="651.4" y1="214.0" x2="653.7" y2="214.0" stroke="#000" stroke-width="1"/>
<line x1="361.0" y1="202.2" x2="365.5" y2="202.2" stroke="#000" stroke-width="1"/>
<line x1="649.2" y1="202.2" x2="653.7" y2="202.2" stroke="#000" stroke-width="1"/>
<text transform="translate(658.10,204.07) scale(0.925,1)" font-size="9.2" text-anchor="start" font-family="Liberation Sans, sans-serif">0,2</text>
<line x1="363.2" y1="190.4" x2="365.5" y2="190.4" stroke="#000" stroke-width="1"/>
<line x1="651.4" y1="190.4" x2="653.7" y2="190.4" stroke="#000" stroke-width="1"/>
<line x1="361.0" y1="178.6" x2="365.5" y2="178.6" stroke="#000" stroke-width="1"/>
<line x1="649.2" y1="178.6" x2="653.7" y2="178.6" stroke="#000" stroke-width="1"/>
<text transform="translate(658.10,180.49) scale(0.925,1)" font-size="9.2" text-anchor="start" font-family="Liberation Sans, sans-serif">0,4</text>
<line x1="363.2" y1="166.9" x2="365.5" y2="166.9" stroke="#000" stroke-width="1"/>
<line x1="651.4" y1="166.9" x2="653.7" y2="166.9" stroke="#000" stroke-width="1"/>
<line x1="361.0" y1="155.1" x2="365.5" y2="155.1" stroke="#000" stroke-width="1"/>
<line x1="649.2" y1="155.1" x2="653.7" y2="155.1" stroke="#000" stroke-width="1"/>
<text transform="translate(658.10,156.91) scale(0.925,1)" font-size="9.2" text-anchor="start" font-family="Liberation Sans, sans-serif">0,6</text>
<line x1="363.2" y1="143.3" x2="365.5" y2="143.3" stroke="#000" stroke-width="1"/>
<line x1="651.4" y1="143.3" x2="653.7" y2="143.3" stroke="#000" stroke-width="1"/>
<line x1="361.0" y1="131.5" x2="365.5" y2="131.5" stroke="#000" stroke-width="1"/>
<line x1="649.2" y1="131.5" x2="653.7" y2="131.5" stroke="#000" stroke-width="1"/>
<text transform="translate(658.10,133.33) scale(0.925,1)" font-size="9.2" text-anchor="start" font-family="Liberation Sans, sans-serif">0,8</text>
<line x1="363.2" y1="119.7" x2="365.5" y2="119.7" stroke="#000" stroke-width="1"/>
<line x1="651.4" y1="119.7" x2="653.7" y2="119.7" stroke="#000" stroke-width="1"/>
<line x1="361.0" y1="107.9" x2="365.5" y2="107.9" stroke="#000" stroke-width="1"/>
<line x1="649.2" y1="107.9" x2="653.7" y2="107.9" stroke="#000" stroke-width="1"/>
<text transform="translate(658.10,109.75) scale(0.925,1)" font-size="9.2" text-anchor="start" font-family="Liberation Sans, sans-serif">1,0</text>
<line x1="363.2" y1="96.1" x2="365.5" y2="96.1" stroke="#000" stroke-width="1"/>
<line x1="651.4" y1="96.1" x2="653.7" y2="96.1" stroke="#000" stroke-width="1"/>
<line x1="361.0" y1="84.3" x2="365.5" y2="84.3" stroke="#000" stroke-width="1"/>
<line x1="649.2" y1="84.3" x2="653.7" y2="84.3" stroke="#000" stroke-width="1"/>
<text transform="translate(658.10,86.17) scale(0.925,1)" font-size="9.2" text-anchor="start" font-family="Liberation Sans, sans-serif">1,2</text>
<line x1="363.2" y1="72.5" x2="365.5" y2="72.5" stroke="#000" stroke-width="1"/>
<line x1="651.4" y1="72.5" x2="653.7" y2="72.5" stroke="#000" stroke-width="1"/>
<line x1="361.0" y1="60.7" x2="365.5" y2="60.7" stroke="#000" stroke-width="1"/>
<line x1="649.2" y1="60.7" x2="653.7" y2="60.7" stroke="#000" stroke-width="1"/>
<text transform="translate(658.10,62.59) scale(0.925,1)" font-size="9.2" text-anchor="start" font-family="Liberation Sans, sans-serif">1,4</text>
<line x1="363.2" y1="48.9" x2="365.5" y2="48.9" stroke="#000" stroke-width="1"/>
<line x1="651.4" y1="48.9" x2="653.7" y2="48.9" stroke="#000" stroke-width="1"/>
<line x1="361.0" y1="37.2" x2="365.5" y2="37.2" stroke="#000" stroke-width="1"/>
<line x1="649.2" y1="37.2" x2="653.7" y2="37.2" stroke="#000" stroke-width="1"/>
<text transform="translate(658.10,39.01) scale(0.925,1)" font-size="9.2" text-anchor="start" font-family="Liberation Sans, sans-serif">1,6</text>
<line x1="363.2" y1="25.4" x2="365.5" y2="25.4" stroke="#000" stroke-width="1"/>
<line x1="651.4" y1="25.4" x2="653.7" y2="25.4" stroke="#000" stroke-width="1"/>
<line x1="361.0" y1="13.5" x2="365.5" y2="13.5" stroke="#000" stroke-width="1"/>
<line x1="649.2" y1="13.5" x2="653.7" y2="13.5" stroke="#000" stroke-width="1"/>
<rect x="584.0" y="143.8" width="58.5" height="75.9" fill="#fff" stroke="#808080" stroke-width="0.8"/>
<text x="587.5" y="153.7" font-size="7.5" textLength="52.7" lengthAdjust="spacingAndGlyphs" font-family="Liberation Sans, sans-serif">~ Wire diameter:</text>
<line x1="587.5" y1="154.9" x2="640.2" y2="154.9" stroke="#000" stroke-width="0.6"/>
<line x1="587.2" y1="159.4" x2="592.0" y2="159.4" stroke="#8000ff" stroke-width="0.75"/>
<line x1="598.6" y1="159.4" x2="603.5" y2="159.4" stroke="#8000ff" stroke-width="0.75"/>
<rect x="593.00" y="157.10" width="4.6" height="4.6" fill="#8000ff"/>
<text transform="translate(628.90,161.90) scale(0.947,1)" font-size="7.5" text-anchor="end" font-family="Liberation Sans, sans-serif">400 nm</text>
<line x1="587.2" y1="168.2" x2="592.0" y2="168.2" stroke="#ff8000" stroke-width="0.75"/>
<line x1="598.6" y1="168.2" x2="603.5" y2="168.2" stroke="#ff8000" stroke-width="0.75"/>
<rect x="593.00" y="165.88" width="4.6" height="4.6" fill="#ff8000"/>
<text transform="translate(628.90,170.68) scale(0.947,1)" font-size="7.5" text-anchor="end" font-family="Liberation Sans, sans-serif">300 nm</text>
<line x1="587.2" y1="177.0" x2="592.0" y2="177.0" stroke="#000000" stroke-width="0.75"/>
<line x1="598.6" y1="177.0" x2="603.5" y2="177.0" stroke="#000000" stroke-width="0.75"/>
<rect x="593.00" y="174.66" width="4.6" height="4.6" fill="#000000"/>
<text transform="translate(628.90,179.46) scale(0.947,1)" font-size="7.5" text-anchor="end" font-family="Liberation Sans, sans-serif">140 nm</text>
<line x1="587.2" y1="185.7" x2="592.0" y2="185.7" stroke="#00ff00" stroke-width="0.75"/>
<line x1="598.6" y1="185.7" x2="603.5" y2="185.7" stroke="#00ff00" stroke-width="0.75"/>
<rect x="593.00" y="183.44" width="4.6" height="4.6" fill="#00ff00"/>
<text transform="translate(628.90,188.24) scale(0.947,1)" font-size="7.5" text-anchor="end" font-family="Liberation Sans, sans-serif">100 nm</text>
<line x1="587.2" y1="194.5" x2="592.0" y2="194.5" stroke="#00ffff" stroke-width="0.75"/>
<line x1="598.6" y1="194.5" x2="603.5" y2="194.5" stroke="#00ffff" stroke-width="0.75"/>
<rect x="593.00" y="192.22" width="4.6" height="4.6" fill="#00ffff"/>
<text transform="translate(628.90,197.02) scale(0.947,1)" font-size="7.5" text-anchor="end" font-family="Liberation Sans, sans-serif">60 nm</text>
<line x1="587.2" y1="203.3" x2="592.0" y2="203.3" stroke="#ff00ff" stroke-width="0.75"/>
<line x1="598.6" y1="203.3" x2="603.5" y2="203.3" stroke="#ff00ff" stroke-width="0.75"/>
<rect x="593.00" y="201.00" width="4.6" height="4.6" fill="#ff00ff"/>
<text transform="translate(628.90,205.80) scale(0.947,1)" font-size="7.5" text-anchor="end" font-family="Liberation Sans, sans-serif">40 nm</text>
<line x1="587.2" y1="212.1" x2="592.0" y2="212.1" stroke="#008000" stroke-width="0.75"/>
<line x1="598.6" y1="212.1" x2="603.5" y2="212.1" stroke="#008000" stroke-width="0.75"/>
<rect x="593.00" y="209.78" width="4.6" height="4.6" fill="#008000"/>
<text transform="translate(628.90,214.58) scale(0.947,1)" font-size="7.5" text-anchor="end" font-family="Liberation Sans, sans-serif">30 nm</text>
<text x="177.2" y="256.0" font-size="10.8" text-anchor="middle" font-family="Liberation Sans, sans-serif">Temperature [K]</text>
<text x="509.8" y="256.2" font-size="10.8" text-anchor="middle" font-family="Liberation Sans, sans-serif">Temperature [K]</text>
<text font-size="10.45" text-anchor="middle" transform="translate(9.4,119.7) rotate(-90)" font-family="Liberation Sans, sans-serif">R(T)/R(300K)</text>
<text font-size="10.45" text-anchor="middle" transform="translate(682.0,119.8) rotate(-90)" font-family="Liberation Sans, sans-serif">R(T)/R(300K)</text>
<text x="1.4" y="14.0" font-size="17" fill="#222" font-family="Liberation Sans, sans-serif">a</text>
<text x="12.1" y="14.0" font-size="17" fill="#222" font-family="Liberation Sans, sans-serif">)</text>
<text x="339.4" y="14.0" font-size="17" fill="#222" font-family="Liberation Sans, sans-serif">b</text>
<text x="350.0" y="14.0" font-size="17" fill="#222" font-family="Liberation Sans, sans-serif">)</text>
<text x="296.5" y="30.5" font-size="12" fill="#222" textLength="14" lengthAdjust="spacingAndGlyphs" font-family="Liberation Sans, sans-serif">RT</text>
<text x="541.4" y="30.6" font-size="12.4" fill="#222" textLength="102.2" lengthAdjust="spacingAndGlyphs" font-family="Liberation Sans, sans-serif">Surfactant, 40° C</text>
</svg>
</body></html>
